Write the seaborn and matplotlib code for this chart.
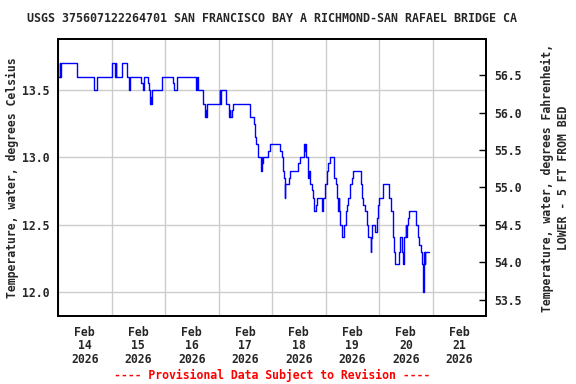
import matplotlib
matplotlib.use('Agg')
import matplotlib.pyplot as plt
import matplotlib.dates as mdates
import pandas as pd
import seaborn as sns

# Hours since 2026-02-14 00:00 where the reading changes, and the new reading (deg C)
hours = [0, 0.75, 1.0, 1.2, 8.6, 16.2, 17.7, 24.4, 25.6, 25.9,
         26.2, 28.6, 31.1, 31.7, 32.3, 37.4, 38.0, 38.8, 40.3, 40.9,
         41.35, 41.6, 41.8, 42.1, 46.5, 51.6, 52.2, 53.2, 62.0, 62.4,
         62.7, 65.0, 66.0, 66.4, 66.6, 66.9, 72.5, 72.8, 73.0, 75.5,
         76.5, 77.0, 77.3, 78.0, 78.6, 86.0, 87.8, 88.4, 89.0, 89.6,
         91.2, 91.4, 91.5, 91.7, 92.0, 94.2, 95.3, 99.7, 100.3, 100.9,
         101.5, 101.8, 102.0, 103.6, 104.2, 107.8, 108.4, 110.5, 110.8, 111.0,
         111.4, 112.0, 112.6, 113.2, 113.8, 114.4, 115.0, 115.9, 116.4, 118.5,
         119.1, 119.7, 120.6, 121.2, 121.8, 123.6, 124.5, 125.1, 125.7, 125.85,
         126.0, 126.6, 127.2, 128.4, 129.0, 129.6, 130.2, 130.8, 131.7, 132.3,
         135.9, 136.4, 137.0, 137.6, 138.5, 139.1, 140.3, 140.6, 140.9, 142.4,
         143.0, 143.6, 144.2, 145.7, 148.7, 149.6, 150.2, 150.8, 151.4, 152.9,
         153.5, 154.1, 154.7, 155.3, 155.9, 156.2, 156.5, 157.0, 157.6, 160.6,
         161.5, 162.1, 162.7, 163.3, 163.9, 164.2, 164.5, 164.8, 166.3]
temps_c = [13.6, 13.7, 13.6, 13.7, 13.6, 13.5, 13.6, 13.7, 13.6, 13.7,
           13.6, 13.7, 13.6, 13.5, 13.6, 13.55, 13.5, 13.6, 13.55, 13.5,
           13.4, 13.45, 13.4, 13.5, 13.6, 13.55, 13.5, 13.6, 13.5, 13.6,
           13.5, 13.4, 13.3, 13.35, 13.3, 13.4, 13.5, 13.4, 13.5, 13.4,
           13.3, 13.35, 13.3, 13.35, 13.4, 13.3, 13.25, 13.15, 13.1, 13.0,
           12.9, 13.0, 12.9, 12.96, 13.0, 13.05, 13.1, 13.05, 13.0, 12.9,
           12.85, 12.7, 12.8, 12.85, 12.9, 12.96, 13.0, 13.1, 13.05, 13.1,
           13.0, 12.85, 12.9, 12.8, 12.76, 12.7, 12.6, 12.65, 12.7, 12.6,
           12.7, 12.8, 12.9, 12.96, 13.0, 12.85, 12.8, 12.7, 12.6, 12.7,
           12.6, 12.5, 12.41, 12.5, 12.6, 12.65, 12.7, 12.8, 12.85, 12.9,
           12.8, 12.7, 12.65, 12.6, 12.5, 12.41, 12.3, 12.4, 12.5, 12.45,
           12.55, 12.65, 12.7, 12.8, 12.7, 12.6, 12.41, 12.3, 12.21, 12.3,
           12.41, 12.3, 12.21, 12.41, 12.5, 12.41, 12.5, 12.55, 12.6, 12.5,
           12.41, 12.35, 12.3, 12.21, 12.0, 12.3, 12.21, 12.3, 12.3]

day_labels = ['Feb\n14\n2026', 'Feb\n15\n2026', 'Feb\n16\n2026', 'Feb\n17\n2026',
              'Feb\n18\n2026', 'Feb\n19\n2026', 'Feb\n20\n2026', 'Feb\n21\n2026']
left_ticks = [12.0, 12.5, 13.0, 13.5]
right_ticks = [53.5, 54.0, 54.5, 55.0, 55.5, 56.0, 56.5]

start = pd.Timestamp('2026-02-14')
df = pd.DataFrame({'time': start + pd.to_timedelta(hours, unit='h'), 'temp': temps_c})

sns.set_style('white')
plt.rcParams['font.family'] = ['DejaVu Sans Mono']
plt.rcParams['font.weight'] = 'bold'
fs = 8.3

fig = plt.figure(figsize=(5.76, 3.84), dpi=100)
ax = fig.add_axes([58 / 576, 1 - 316 / 384, 428 / 576, 277 / 384])

sns.lineplot(data=df, x='time', y='temp', ax=ax, color='#0000ff', linewidth=1,
             drawstyle='steps-post', estimator=None)

ax.set_xlim(start, start + pd.Timedelta(days=8))
ylo, yhi = 11.824, 13.879
ax.set_ylim(ylo, yhi)

# grid at midnights and on the Celsius ticks
ax.xaxis.set_minor_locator(mdates.DayLocator())
ax.set_xticks([start + pd.Timedelta(hours=12 + 24 * i) for i in range(8)])
ax.set_xticklabels(day_labels, fontsize=fs, fontweight='bold', linespacing=1.05)
ax.grid(True, which='minor', axis='x', color='#cccccc', linewidth=1)
ax.grid(True, which='major', axis='y', color='#cccccc', linewidth=1)
ax.set_axisbelow(True)
ax.set_yticks(left_ticks)
ax.set_yticklabels([f'{v:.1f}' for v in left_ticks], fontsize=fs, fontweight='bold')
ax.tick_params(axis='x', which='both', length=0, pad=7)
ax.tick_params(axis='y', length=0, pad=6)
ax.set_xlabel('')
ax.set_ylabel('Temperature, water, degrees Celsius', fontsize=fs, fontweight='bold', labelpad=2)
for s in ax.spines.values():
    s.set_color('black')
    s.set_linewidth(1.3)

ax2 = ax.twinx()
ax2.set_ylim(ylo * 1.8 + 32, yhi * 1.8 + 32)
ax2.set_yticks(right_ticks)
ax2.set_yticklabels([f'{v:.1f}' for v in right_ticks], fontsize=fs, fontweight='bold')
ax2.tick_params(axis='y', direction='in', length=5, width=1, color='black', pad=6)
ax2.set_ylabel('Temperature, water, degrees Fahrenheit,\nLOWER - 5 FT FROM BED',
               fontsize=fs, fontweight='bold', labelpad=14, linespacing=1.3)
for s in ax2.spines.values():
    s.set_color('black')
    s.set_linewidth(1.3)

fig.text(272 / 576, 1 - 19 / 384,
         'USGS 375607122264701 SAN FRANCISCO BAY A RICHMOND-SAN RAFAEL BRIDGE CA',
         ha='center', va='center', fontsize=8.4, fontweight='bold')
fig.text(272 / 576, 1 - 375 / 384, '---- Provisional Data Subject to Revision ----',
         ha='center', va='center', fontsize=fs, fontweight='bold', color='red')

fig.savefig('out.png', dpi=100)
